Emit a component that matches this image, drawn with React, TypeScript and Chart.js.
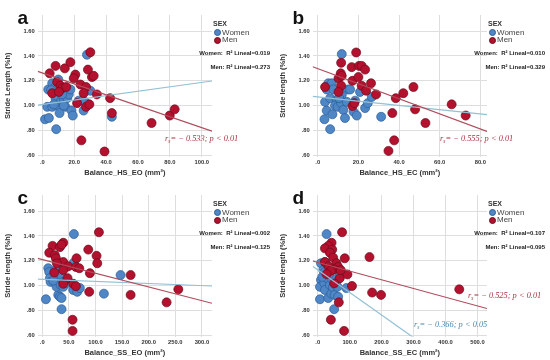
import React, { useEffect, useRef } from "react";
import { Chart, registerables } from "chart.js";

Chart.register(...registerables);

// ---------- DATA ----------
const yTickValues = [0.6, 0.8, 1.0, 1.2, 1.4, 1.6];
const yRange = [0.59, 1.73];

// Panel a : Balance_HS_EO
const aXTicks = [0, 20, 40, 60, 80, 100];
const aXRange = [-2.9, 106.4];
const aWomenX = [28.0, 1.7, 4.1, 8.7, 3.1, 6.2, 3.7, 6.2, 7.3, 8.3, 9.3, 10.8, 11.4, 13.5, 14.5, 15.6, 16.6, 17.6, 18.3, 19.1, 22.8, 25.3, 25.9, 43.6, 30.1, 12.4, 10.0, 7.3, 13.5, 5.5, 26.8];
const aWomenY = [1.41, 0.89, 0.9, 0.81, 0.99, 0.99, 1.13, 1.18, 1.14, 1.06, 1.0, 0.94, 1.03, 1.05, 0.99, 1.06, 1.09, 1.13, 0.96, 0.92, 1.04, 1.04, 0.96, 0.91, 1.12, 1.09, 1.21, 1.01, 1.0, 1.125, 1.03];
const aMenX = [30.1, 8.3, 4.6, 14.1, 17.6, 20.7, 19.7, 28.6, 31.1, 32.2, 9.3, 6.2, 11.4, 12.4, 23.9, 27.4, 25.9, 34.2, 21.8, 27.4, 29.5, 42.5, 43.6, 68.5, 79.9, 83.0, 24.5, 39.0, 15.0, 10.4];
const aMenY = [1.43, 1.32, 1.26, 1.3, 1.35, 1.25, 1.22, 1.29, 1.23, 1.24, 1.19, 1.1, 1.16, 1.14, 1.17, 1.15, 1.1, 1.09, 1.02, 0.99, 1.01, 1.06, 0.94, 0.86, 0.92, 0.97, 0.72, 0.63, 1.15, 1.11];
const aWomenFit = [1.009, 0.00178]; // intercept, slope
const aMenFit = [1.263, -0.0044];
const aR2 = ["0.019", "0.273"];

// Panel b : Balance_HS_EC
const bXTicks = [0, 20, 40, 60, 80];
const bXRange = [-2.5, 83.3];
const bWomenX = [11.8, 3.3, 6.1, 4.4, 7.2, 3.6, 6.1, 5.2, 6.9, 4.4, 7.7, 9.3, 8.5, 9.8, 11.5, 12.6, 13.4, 14.3, 14.8, 15.9, 18.4, 17.6, 19.2, 20.8, 23.3, 24.6, 26.6, 31.2, 11.8, 10.5];
const bWomenY = [1.415, 0.89, 0.81, 0.96, 0.93, 1.03, 1.06, 1.18, 1.18, 1.13, 1.13, 1.045, 1.0, 0.99, 1.02, 0.965, 0.9, 1.03, 1.13, 1.13, 1.04, 0.95, 0.92, 1.11, 0.98, 1.02, 1.07, 0.91, 1.085, 1.06];
const bMenX = [18.9, 11.5, 16.7, 20.3, 21.6, 23.3, 11.3, 10.2, 11.8, 17.1, 20.0, 26.2, 21.6, 11.5, 3.6, 23.8, 10.2, 28.7, 38.4, 42.1, 47.1, 47.9, 36.7, 53.0, 65.9, 72.8, 37.6, 34.8, 17.1, 18.0];
const bMenY = [1.428, 1.345, 1.31, 1.32, 1.32, 1.29, 1.26, 1.22, 1.24, 1.2, 1.23, 1.18, 1.16, 1.16, 1.15, 1.12, 1.11, 1.09, 1.06, 1.1, 1.15, 0.97, 0.94, 0.86, 1.01, 0.92, 0.72, 0.635, 0.997, 1.02];
const bWomenFit = [1.07, -0.00172];
const bMenFit = [1.298, -0.00608];
const bR2 = ["0.010", "0.329"];

// Panel c : Balance_SS_EO
const cXTicks = [0, 50, 100, 150, 200, 250, 300];
const cXRange = [-8.5, 319];
const cWomenX = [59.5, 6.9, 36.3, 30.1, 33.2, 36.3, 11.3, 13.2, 14.4, 15.7, 23.8, 26.9, 26.9, 31.9, 34.5, 36.3, 39.5, 42.6, 45.7, 59.5, 58.3, 65.8, 70.8, 115.9, 147.2, 31.9, 20.7, 39.5];
const cWomenY = [1.415, 0.89, 0.81, 0.925, 0.91, 0.9, 1.14, 1.11, 1.06, 1.03, 1.12, 1.07, 0.99, 1.045, 1.005, 1.085, 0.99, 1.15, 1.02, 1.185, 0.965, 0.95, 0.98, 0.935, 1.085, 1.16, 1.04, 1.03];
const cMenX = [106.5, 19.4, 33.2, 39.5, 36.3, 13.2, 23.8, 25.7, 39.5, 27.6, 48.9, 64.5, 86.5, 102.1, 103.4, 63.3, 69.6, 39.5, 22.6, 89.6, 47.6, 39.5, 58.3, 63.3, 88.3, 166.1, 166.1, 233.7, 255.7, 57.0, 57.0];
const cMenY = [1.43, 1.32, 1.31, 1.345, 1.33, 1.265, 1.245, 1.22, 1.19, 1.18, 1.155, 1.22, 1.29, 1.24, 1.18, 1.15, 1.14, 1.125, 1.105, 1.1, 1.06, 1.015, 1.015, 0.995, 0.95, 1.085, 0.925, 0.865, 0.97, 0.725, 0.635];
const cWomenFit = [1.0515, -0.000171];
const cMenFit = [1.2103, -0.001105];
const cR2 = ["0.002", "0.125"];

// Panel d : Balance_SS_EC
const dXTicks = [0, 100, 200, 300, 400, 500];
const dXRange = [-15.6, 530];
const dWomenX = [27.9, 7.2, 51.6, 10.3, 10.3, 17.6, 22.7, 7.2, 20.7, 22.7, 27.9, 33.1, 38.2, 42.4, 47.5, 52.7, 58.9, 64.0, 69.2, 89.9, 33.1, 14.5, 45.5, 62.0, 38.2, 22.7];
const dWomenY = [1.415, 0.89, 0.81, 1.045, 1.18, 1.125, 1.19, 0.99, 1.02, 0.965, 1.06, 0.9, 1.005, 0.935, 0.985, 0.925, 1.03, 0.91, 1.085, 0.98, 1.14, 1.07, 1.05, 0.99, 1.1, 1.11];
const dMenX = [76.4, 43.4, 33.1, 22.7, 45.5, 38.2, 48.5, 84.7, 22.7, 34.1, 58.9, 64.0, 51.6, 41.3, 69.2, 93.0, 107.4, 162.2, 170.4, 198.3, 443.2, 66.1, 41.3, 82.6, 51.6, 27.9, 72.3];
const dMenY = [1.43, 1.345, 1.32, 1.3, 1.29, 1.265, 1.225, 1.22, 1.19, 1.155, 1.18, 1.15, 1.13, 1.12, 1.06, 1.09, 0.997, 1.23, 0.944, 0.925, 0.97, 0.865, 0.725, 0.635, 1.018, 1.093, 1.125];
const dWomenFit = [1.127, -0.00182];
const dMenFit = [1.187, -0.000701];
const dR2 = ["0.107", "0.095"];

// ---------- STYLE / LAYOUT ----------
const PW = 275;
const PH = 180;
const AREA = { left: 37.7, right: 212, top: 15, bottom: 156.5 };
const WOMEN_FILL = "#4f86c6";
const WOMEN_EDGE = "#2b5d98";
const MEN_FILL = "#b3112e";
const MEN_EDGE = "#6e0a1b";
const WOMEN_LINE = "#93c0d6";
const MEN_LINE = "#b04c5c";
const GRID = "#dedede";
const SANS = "'Liberation Sans', Arial, sans-serif";
const SERIF = "'Liberation Serif', 'Times New Roman', serif";
const RED_NOTE = "#a8323f";
const BLUE_NOTE = "#4a87ad";

type Note = { rs: string; p: string; x: number; y: number; color: string };
type Panel = {
  letter: string;
  xTitle: string;
  yTitle: string;
  xTicks: number[];
  xRange: number[];
  womenX: number[];
  womenY: number[];
  menX: number[];
  menY: number[];
  womenFit: number[];
  menFit: number[];
  r2: string[];
  notes: Note[];
};

const panels: Panel[] = [
  { letter: "a", xTitle: "Balance_HS_EO (mm²)", yTitle: "Stride Length (%h)", xTicks: aXTicks, xRange: aXRange, womenX: aWomenX, womenY: aWomenY, menX: aMenX, menY: aMenY, womenFit: aWomenFit, menFit: aMenFit, r2: aR2,
    notes: [{ rs: "− 0.533", p: "< 0.01", x: 165, y: 140, color: RED_NOTE }] },
  { letter: "b", xTitle: "Balance_HS_EC (mm²)", yTitle: "Stride length (%h)", xTicks: bXTicks, xRange: bXRange, womenX: bWomenX, womenY: bWomenY, menX: bMenX, menY: bMenY, womenFit: bWomenFit, menFit: bMenFit, r2: bR2,
    notes: [{ rs: "− 0.555", p: "< 0.01", x: 165, y: 140, color: RED_NOTE }] },
  { letter: "c", xTitle: "Balance_SS_EO (mm²)", yTitle: "Stride length (%h)", xTicks: cXTicks, xRange: cXRange, womenX: cWomenX, womenY: cWomenY, menX: cMenX, menY: cMenY, womenFit: cWomenFit, menFit: cMenFit, r2: cR2,
    notes: [] },
  { letter: "d", xTitle: "Balance_SS_EC (mm²)", yTitle: "Stride length (%h)", xTicks: dXTicks, xRange: dXRange, womenX: dWomenX, womenY: dWomenY, menX: dMenX, menY: dMenY, womenFit: dWomenFit, menFit: dMenFit, r2: dR2,
    notes: [
      { rs: "− 0.525", p: "< 0.01", x: 193, y: 116.7, color: RED_NOTE },
      { rs: "− 0.366", p: "< 0.05", x: 139, y: 145.7, color: BLUE_NOTE },
    ] },
];

function fmtX(v: number) {
  return v === 0 ? ".0" : v.toFixed(1);
}
function fmtY(v: number) {
  return v.toFixed(2).replace(/^0\./, ".");
}

function makeConfig(p: Panel): any {
  const [xMin, xMax] = p.xRange;
  const fitLine = (f: number[]) => [
    { x: xMin, y: f[0] + f[1] * xMin },
    { x: xMax, y: f[0] + f[1] * xMax },
  ];
  const pts = (xs: number[], ys: number[]) => xs.map((x, i) => ({ x, y: ys[i] }));
  const tickFont = { family: SANS, size: 5.8, weight: "bold" as const };
  const titleFont = { family: SANS, size: 7.5, weight: "bold" as const };
  return {
    type: "scatter",
    data: {
      datasets: [
        { data: fitLine(p.menFit), showLine: true, borderColor: MEN_LINE, borderWidth: 1.2, pointRadius: 0 },
        { data: fitLine(p.womenFit), showLine: true, borderColor: WOMEN_LINE, borderWidth: 1.2, pointRadius: 0 },
        { data: pts(p.menX, p.menY), backgroundColor: MEN_FILL, borderColor: MEN_EDGE, borderWidth: 0.7, pointRadius: 4.5 },
        { data: pts(p.womenX, p.womenY), backgroundColor: WOMEN_FILL, borderColor: WOMEN_EDGE, borderWidth: 0.7, pointRadius: 4.5 },
      ],
    },
    options: {
      responsive: false,
      animation: false,
      events: [],
      layout: { padding: { left: 0, top: AREA.top, right: PW - AREA.right, bottom: 0 } },
      plugins: { legend: { display: false }, tooltip: { enabled: false } },
      scales: {
        x: {
          type: "linear",
          min: xMin,
          max: xMax,
          afterBuildTicks: (s: any) => { s.ticks = p.xTicks.map((v) => ({ value: v })); },
          afterFit: (s: any) => { s.height = PH - AREA.bottom; },
          grid: { color: GRID, drawTicks: false, lineWidth: 1 },
          border: { display: false },
          ticks: { font: tickFont, color: "#333", padding: 2, maxRotation: 0, autoSkip: false, callback: (v: any) => fmtX(Number(v)) },
          title: { display: true, text: p.xTitle, font: titleFont, color: "#333", padding: { top: 0, bottom: 3 } },
        },
        y: {
          type: "linear",
          min: yRange[0],
          max: yRange[1],
          afterBuildTicks: (s: any) => { s.ticks = yTickValues.map((v) => ({ value: v })); },
          afterFit: (s: any) => { s.width = AREA.left; },
          grid: { color: GRID, drawTicks: false, lineWidth: 1 },
          border: { display: false },
          ticks: { font: tickFont, color: "#333", padding: 3, autoSkip: false, callback: (v: any) => fmtY(Number(v)) },
          title: { display: true, text: p.yTitle, font: titleFont, color: "#333", padding: { top: 3.8, bottom: 0 } },
        },
      },
    },
  };
}

function Txt(props: { x: number; y: number; right?: boolean; style?: any; children: any }) {
  const base: any = {
    position: "absolute",
    top: props.y,
    transform: "translateY(-50%)",
    whiteSpace: "nowrap",
    lineHeight: 1,
  };
  if (props.right) base.right = PW - props.x;
  else base.left = props.x;
  return <div style={{ ...base, ...props.style }}>{props.children}</div>;
}

function PanelView({ p, ox, oy }: { p: Panel; ox: number; oy: number }) {
  const ref = useRef<HTMLCanvasElement | null>(null);
  useEffect(() => {
    if (!ref.current) return;
    const chart = new Chart(ref.current, makeConfig(p));
    return () => chart.destroy();
  }, [p]);
  const small = { fontFamily: SANS, fontSize: 6, fontWeight: "bold", color: "#222" };
  return (
    <div style={{ position: "absolute", left: ox, top: oy, width: PW, height: PH }}>
      <canvas ref={ref} width={PW} height={PH} style={{ position: "absolute", left: 0, top: 0, width: PW, height: PH }} />
      <div style={{ position: "absolute", left: 17.5, top: 7.5, fontFamily: SANS, fontWeight: "bold", fontSize: 19, lineHeight: 1, color: "#111" }}>{p.letter}</div>
      <Txt x={213} y={22.7} style={{ fontFamily: SANS, fontSize: 7, fontWeight: "bold", color: "#333" }}>SEX</Txt>
      <div style={{ position: "absolute", left: 213.8, top: 28.8, width: 7, height: 7, borderRadius: "50%", background: WOMEN_FILL, boxSizing: "border-box", border: `0.7px solid ${WOMEN_EDGE}` }} />
      <Txt x={222} y={32.5} style={{ fontFamily: SANS, fontSize: 8, color: "#444" }}>Women</Txt>
      <div style={{ position: "absolute", left: 213.8, top: 36.5, width: 7, height: 7, borderRadius: "50%", background: MEN_FILL, boxSizing: "border-box", border: `0.7px solid ${MEN_EDGE}` }} />
      <Txt x={222} y={40.2} style={{ fontFamily: SANS, fontSize: 8, color: "#444" }}>Men</Txt>
      <Txt x={270} y={52.7} right style={small}>Women:&nbsp; R² Lineal={p.r2[0]}</Txt>
      <Txt x={270} y={66.7} right style={small}>Men: R² Lineal={p.r2[1]}</Txt>
      {p.notes.map((n, i) => (
        <Txt key={i} x={n.x} y={n.y} style={{ fontFamily: SERIF, fontStyle: "italic", fontSize: 8.4, color: n.color }}>
          r<span style={{ fontSize: "0.65em", verticalAlign: "-0.3em" }}>s</span>= {n.rs}; p {n.p}
        </Txt>
      ))}
    </div>
  );
}

export default function App() {
  return (
    <div style={{ position: "absolute", left: 0, top: 0, width: 550, height: 360, background: "#fff", overflow: "hidden" }}>
      {panels.map((p, i) => (
        <PanelView key={p.letter} p={p} ox={(i % 2) * PW} oy={Math.floor(i / 2) * PH} />
      ))}
    </div>
  );
}
